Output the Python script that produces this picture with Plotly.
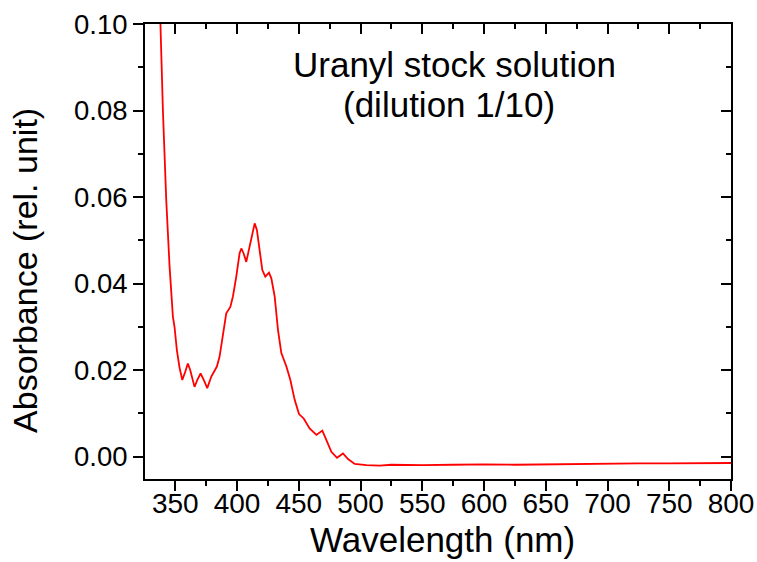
import plotly.graph_objects as go

# Wavelength (nm) and absorbance
wavelength = [336, 338, 340, 342.7, 345.4, 348.1, 349.4, 351.3, 353.5, 355.7, 358.1, 360.2,
              362.1, 365.6, 368.0, 370.5, 373.7, 375.9, 379.2, 383.7, 385.9, 388.6, 391.3,
              394.6, 396.7, 399.4, 402.1, 403.5, 405.3, 407.5, 410.2, 412.1, 414.3, 416.1,
              418.3, 420.5, 422.9, 425.9, 427.8, 430.5, 433.2, 435.9, 440.0, 443.2, 446.7,
              450.2, 454.0, 458.8, 464.3, 469.1, 472.4, 476.4, 481.0, 485.8, 489.9, 495.3,
              504.8, 515.6, 525, 550, 575, 600, 625, 650, 675, 700, 725, 750, 775, 800]
absorbance = [0.110, 0.100, 0.080, 0.0593, 0.0439, 0.0323, 0.0300, 0.0246, 0.0205, 0.0177,
              0.0196, 0.0215, 0.0200, 0.0161, 0.0178, 0.0192, 0.0173, 0.0158, 0.0185, 0.0208,
              0.0231, 0.0285, 0.0331, 0.0346, 0.0370, 0.0416, 0.0470, 0.0481, 0.0470, 0.0450,
              0.0485, 0.0516, 0.0539, 0.0524, 0.0477, 0.0431, 0.0416, 0.0425, 0.0412, 0.0370,
              0.0292, 0.0239, 0.0208, 0.0177, 0.0131, 0.0098, 0.0088, 0.0065, 0.0050, 0.0060,
              0.0038, 0.0011, -0.0003, 0.0007, -0.0006, -0.0017, -0.0020, -0.0021, -0.0019,
              -0.0020, -0.0019, -0.0018, -0.0019, -0.0018, -0.0017, -0.0017, -0.0016, -0.0016,
              -0.0016, -0.0015]

title_lines = ["Uranyl stock solution", "(dilution 1/10)"]
x_title = "Wavelength (nm)"
y_title = "Absorbance (rel. unit)"

x_range = [325.5, 800]
y_range = [-0.0052, 0.10]

FONT = "Arial, Liberation Sans, sans-serif"

fig = go.Figure()
fig.add_trace(go.Scatter(x=wavelength, y=absorbance, mode="lines",
                         line=dict(color="#ff0000", width=1.8), showlegend=False,
                         hoverinfo="x+y"))
# empty trace so the mirrored frame axes (top / right, inward ticks) are drawn
fig.add_trace(go.Scatter(x=[None], y=[None], xaxis="x2", yaxis="y2", mode="lines",
                         showlegend=False, hoverinfo="skip"))

axis_common = dict(showgrid=False, zeroline=False, showline=True, linecolor="black",
                   linewidth=2, tickcolor="black", tickwidth=2, ticklen=10, automargin=False)

fig.update_layout(
    width=757, height=562,
    margin=dict(l=145, r=26, t=24, b=83),
    paper_bgcolor="white", plot_bgcolor="white",
    font=dict(family=FONT, color="black"),
    xaxis=dict(range=x_range, tick0=350, dtick=50, ticks="outside",
               minor=dict(dtick=25, tick0=350, ticks="outside", ticklen=5,
                          tickwidth=2, tickcolor="black"),
               tickfont=dict(size=28), ticklabelstandoff=-12,
               **axis_common),
    yaxis=dict(range=y_range, tick0=0, dtick=0.02, tickformat=".2f", ticks="outside",
               minor=dict(dtick=0.01, tick0=0, ticks="outside", ticklen=5,
                          tickwidth=2, tickcolor="black"),
               tickfont=dict(size=27.5),
               **axis_common),
    xaxis2=dict(range=x_range, overlaying="x", side="top", tick0=350, dtick=50,
                ticks="inside", showticklabels=False,
                minor=dict(dtick=25, tick0=350, ticks="inside", ticklen=5,
                           tickwidth=2, tickcolor="black"),
                **axis_common),
    yaxis2=dict(range=y_range, overlaying="y", side="right", tick0=0, dtick=0.02,
                ticks="inside", showticklabels=False,
                minor=dict(dtick=0.01, tick0=0, ticks="inside", ticklen=5,
                           tickwidth=2, tickcolor="black"),
                **axis_common),
)

# axis titles (placed as in the reference)
fig.add_annotation(text=x_title, xref="paper", yref="paper", x=0.507, y=-0.133,
                   xanchor="center", yanchor="middle", showarrow=False,
                   font=dict(size=35, family=FONT, color="black"))
fig.add_annotation(text=y_title, xref="paper", yref="paper", x=-0.206, y=0.458,
                   xanchor="center", yanchor="middle", textangle=-90, showarrow=False,
                   font=dict(size=34, family=FONT, color="black"))

fig.add_annotation(text=title_lines[0], xref="paper", yref="paper", x=0.528, y=0.910,
                   xanchor="center", yanchor="middle", showarrow=False,
                   font=dict(size=35, family=FONT, color="black"))
fig.add_annotation(text=title_lines[1], xref="paper", yref="paper", x=0.518, y=0.822,
                   xanchor="center", yanchor="middle", showarrow=False,
                   font=dict(size=35, family=FONT, color="black"))

fig.write_html("out.html")
